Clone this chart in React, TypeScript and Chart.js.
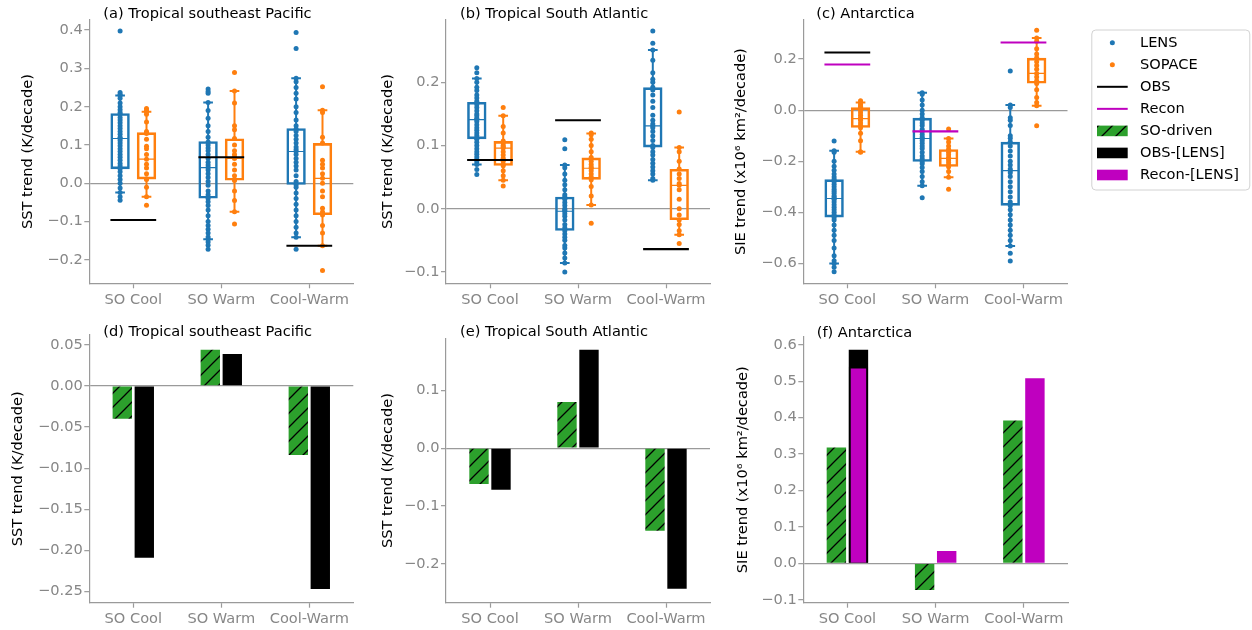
import React, { useEffect, useRef } from 'react';
import { Chart, registerables } from 'chart.js';

Chart.register(...registerables);

const FONT_FAMILY = '"DejaVu Sans", "Liberation Sans", Arial, sans-serif';
const FONT_SIZE = 14.6;
Chart.defaults.font.family = FONT_FAMILY;
Chart.defaults.font.size = FONT_SIZE;

const BLUE = '#1f77b4';
const ORANGE = '#ff7f0e';
const GREEN = '#2ca02c';
const MAGENTA = '#bf00bf';
const TEXT_GRAY = '#878787';
const LINE_GRAY = '#9a9a9a';

// ---------------- data ----------------
const categories = ['SO Cool', 'SO Warm', 'Cool-Warm'];

// (a) Tropical southeast Pacific, SST trend (K/decade)
const aLensPoints = [
  [0.398, 0.237, 0.232, 0.229, 0.222, 0.21, 0.2, 0.192, 0.185, 0.18, 0.172, 0.165, 0.158, 0.15, 0.143, 0.135, 0.128, 0.12, 0.117, 0.112, 0.105, 0.098, 0.09, 0.083, 0.075, 0.068, 0.06, 0.052, 0.045, 0.038, 0.03, 0.02, 0.01, 0.0, -0.012, -0.024, -0.035, -0.044],
  [0.246, 0.24, 0.235, 0.211, 0.19, 0.17, 0.15, 0.135, 0.12, 0.108, 0.1, 0.092, 0.085, 0.075, 0.065, 0.055, 0.048, 0.041, 0.035, 0.025, 0.015, 0.005, -0.005, -0.02, -0.03, -0.04, -0.048, -0.058, -0.07, -0.085, -0.1, -0.11, -0.12, -0.13, -0.14, -0.146, -0.153, -0.162, -0.172],
  [0.394, 0.352, 0.274, 0.265, 0.25, 0.235, 0.22, 0.2, 0.185, 0.165, 0.15, 0.142, 0.135, 0.125, 0.115, 0.105, 0.095, 0.088, 0.083, 0.075, 0.065, 0.055, 0.045, 0.035, 0.02, 0.005, -0.004, -0.01, -0.025, -0.04, -0.055, -0.07, -0.085, -0.1, -0.115, -0.13, -0.141, -0.172],
];
const aSopacePoints = [
  [0.195, 0.19, 0.187, 0.18, 0.16, 0.135, 0.13, 0.115, 0.097, 0.09, 0.075, 0.063, 0.05, 0.04, 0.025, 0.012, 0.01, -0.01, -0.035, -0.057],
  [0.289, 0.241, 0.21, 0.15, 0.14, 0.117, 0.1, 0.085, 0.075, 0.068, 0.065, 0.05, 0.035, 0.02, 0.01, 0.007, -0.02, -0.045, -0.074, -0.106],
  [0.252, 0.191, 0.185, 0.12, 0.105, 0.06, 0.05, 0.04, 0.025, 0.013, 0.0, -0.02, -0.035, -0.065, -0.075, -0.083, -0.11, -0.13, -0.163, -0.228],
];
// [lower whisker, q1, median, q3, upper whisker]
const aLensStats = [[-0.024, 0.037, 0.117, 0.183, 0.229], [-0.146, -0.04, 0.041, 0.11, 0.211], [-0.141, -0.004, 0.083, 0.144, 0.274]];
const aSopaceStats = [[-0.035, 0.01, 0.063, 0.133, 0.187], [-0.074, 0.007, 0.065, 0.117, 0.241], [-0.163, -0.083, 0.013, 0.105, 0.191]];
const aObs = [-0.096, 0.068, -0.163];
const aRecon = [null, null, null];
const aRange = [-0.2611, 0.4264];
const aTicks = [-0.2, -0.1, 0, 0.1, 0.2, 0.3, 0.4];
const aTickLabels = ['−0.2', '−0.1', '0.0', '0.1', '0.2', '0.3', '0.4'];

// (b) Tropical South Atlantic
const bLensPoints = [
  [0.223, 0.215, 0.206, 0.2, 0.192, 0.187, 0.18, 0.175, 0.17, 0.165, 0.16, 0.155, 0.15, 0.147, 0.143, 0.141, 0.138, 0.133, 0.128, 0.124, 0.12, 0.116, 0.112, 0.11, 0.105, 0.1, 0.095, 0.09, 0.086, 0.082, 0.078, 0.074, 0.07, 0.062, 0.054],
  [0.109, 0.095, 0.069, 0.065, 0.055, 0.045, 0.038, 0.03, 0.022, 0.019, 0.015, 0.01, 0.005, 0.0, -0.002, -0.004, -0.008, -0.012, -0.018, -0.025, -0.03, -0.035, -0.04, -0.045, -0.05, -0.058, -0.062, -0.07, -0.078, -0.086, -0.1],
  [0.281, 0.262, 0.251, 0.235, 0.215, 0.205, 0.2, 0.192, 0.188, 0.18, 0.17, 0.16, 0.148, 0.14, 0.134, 0.131, 0.128, 0.122, 0.115, 0.108, 0.1, 0.097, 0.09, 0.085, 0.078, 0.072, 0.066, 0.06, 0.055, 0.048, 0.045],
];
const bSopacePoints = [
  [0.16, 0.147, 0.13, 0.12, 0.107, 0.104, 0.1, 0.098, 0.096, 0.09, 0.085, 0.08, 0.075, 0.07, 0.068, 0.06, 0.052, 0.045, 0.036],
  [0.12, 0.117, 0.11, 0.1, 0.09, 0.081, 0.075, 0.07, 0.066, 0.064, 0.06, 0.055, 0.05, 0.046, 0.035, 0.02, 0.006, -0.023],
  [0.153, 0.097, 0.09, 0.075, 0.063, 0.055, 0.048, 0.04, 0.037, 0.03, 0.015, 0.0, -0.01, -0.018, -0.025, -0.035, -0.041, -0.055],
];
const bLensStats = [[0.07, 0.11, 0.141, 0.169, 0.206], [-0.086, -0.035, -0.004, 0.019, 0.069], [0.045, 0.097, 0.131, 0.192, 0.251]];
const bSopaceStats = [[0.045, 0.068, 0.096, 0.107, 0.147], [0.006, 0.046, 0.064, 0.081, 0.119], [-0.041, -0.018, 0.037, 0.063, 0.097]];
const bObs = [0.077, 0.14, -0.064];
const bRecon = [null, null, null];
const bRange = [-0.118, 0.2986];
const bTicks = [-0.1, 0, 0.1, 0.2];
const bTickLabels = ['−0.1', '0.0', '0.1', '0.2'];

// (c) Antarctica, SIE trend
const cLensPoints = [
  [-0.121, -0.159, -0.165, -0.2, -0.22, -0.235, -0.25, -0.262, -0.271, -0.28, -0.29, -0.3, -0.31, -0.318, -0.325, -0.335, -0.34, -0.346, -0.35, -0.36, -0.37, -0.38, -0.39, -0.4, -0.41, -0.42, -0.43, -0.45, -0.47, -0.49, -0.51, -0.54, -0.57, -0.59, -0.6, -0.615, -0.633],
  [0.068, 0.062, 0.04, 0.02, 0.0, -0.015, -0.03, -0.04, -0.05, -0.06, -0.075, -0.085, -0.095, -0.105, -0.111, -0.12, -0.13, -0.14, -0.15, -0.165, -0.18, -0.19, -0.202, -0.21, -0.225, -0.24, -0.26, -0.28, -0.296, -0.343],
  [0.153, 0.02, 0.01, -0.03, -0.04, -0.06, -0.1, -0.11, -0.124, -0.14, -0.16, -0.18, -0.2, -0.215, -0.23, -0.237, -0.245, -0.26, -0.28, -0.3, -0.32, -0.34, -0.36, -0.374, -0.39, -0.41, -0.43, -0.45, -0.47, -0.49, -0.51, -0.532, -0.56, -0.591],
];
const cSopacePoints = [
  [0.037, 0.03, 0.022, 0.015, 0.011, 0.0, -0.01, -0.02, -0.03, -0.033, -0.04, -0.05, -0.06, -0.069, -0.09, -0.12, -0.163, -0.165],
  [-0.074, -0.111, -0.125, -0.14, -0.153, -0.165, -0.175, -0.185, -0.189, -0.195, -0.205, -0.215, -0.222, -0.24, -0.263, -0.31],
  [0.313, 0.283, 0.27, 0.24, 0.22, 0.205, 0.19, 0.175, 0.16, 0.144, 0.13, 0.115, 0.104, 0.08, 0.05, 0.03, 0.017, -0.061],
];
const cLensStats = [[-0.6, -0.42, -0.346, -0.271, -0.159], [-0.296, -0.202, -0.111, -0.03, 0.068], [-0.532, -0.374, -0.237, -0.124, 0.02]];
const cSopaceStats = [[-0.163, -0.069, -0.033, 0.011, 0.03], [-0.263, -0.222, -0.189, -0.153, -0.111], [0.017, 0.104, 0.144, 0.205, 0.283]];
const cObs = [0.226, null, null];
const cRecon = [0.179, -0.083, 0.265];
const cRange = [-0.678, 0.353];
const cTicks = [-0.6, -0.4, -0.2, 0, 0.2];
const cTickLabels = ['−0.6', '−0.4', '−0.2', '0.0', '0.2'];

// (d) (e) (f) bar panels
const dSoDriven = [-0.04, 0.044, -0.084];
const dObsLens = [-0.209, 0.039, -0.247];
const dRange = [-0.2636, 0.062];
const dTicks = [-0.25, -0.2, -0.15, -0.1, -0.05, 0, 0.05];
const dTickLabels = ['−0.25', '−0.20', '−0.15', '−0.10', '−0.05', '0.00', '0.05'];

const eSoDriven = [-0.062, 0.08, -0.143];
const eObsLens = [-0.072, 0.17, -0.243];
const eRange = [-0.2673, 0.19];
const eTicks = [-0.2, -0.1, 0, 0.1];
const eTickLabels = ['−0.2', '−0.1', '0.0', '0.1'];

const fSoDriven = [0.318, -0.073, 0.392];
const fObsLens = [0.586, null, null];
const fReconLens = [0.54, 0.034, 0.508];
const fRange = [-0.108, 0.622];
const fTicks = [-0.1, 0, 0.1, 0.2, 0.3, 0.4, 0.5, 0.6];
const fTickLabels = ['−0.1', '0.0', '0.1', '0.2', '0.3', '0.4', '0.5', '0.6'];

const legendLabels = ['LENS', 'SOPACE', 'OBS', 'Recon', 'SO-driven', 'OBS-[LENS]', 'Recon-[LENS]'];

const SST_TITLE = 'SST trend (K/decade)';
const SIE_TITLE = 'SIE trend (x10⁶ km²/decade)';

// ---------------- layout / style ----------------
const LENS_OFF = -0.15;
const SOPACE_OFF = 0.15;
const BOX_RATIO = 0.7333; // of 0.3 spacing -> 0.22 units
const MEDIAN_HALF = 0.092;
const CAP_HALF = 0.055;
const REF_HALF = 0.26;
const BAR_OFF = 0.125;

const layoutA = { left: 0, top: 0, width: 360, height: 310, yW: 89.3, xH: 26.7, padT: 20, padR: 6.7, yTitlePad: 19.6, titleX: 103.3, titleY: 14 };
const layoutB = { left: 360, top: 0, width: 360, height: 310, yW: 86, xH: 26.7, padT: 20, padR: 10, yTitlePad: 19.6, titleX: 100, titleY: 14 };
const layoutC = { left: 720, top: 0, width: 532, height: 310, yW: 83.3, xH: 26.7, padT: 20, padR: 184.5, yTitlePad: 12.8, titleX: 96.2, titleY: 14 };
const layoutD = { left: 0, top: 310, width: 360, height: 320, yW: 89.3, xH: 27.3, padT: 25, padR: 6.7, yTitlePad: 9.6, titleX: 103.3, titleY: 22.7 };
const layoutE = { left: 360, top: 310, width: 360, height: 320, yW: 86, xH: 27.3, padT: 28.3, padR: 10, yTitlePad: 19.6, titleX: 100, titleY: 22.7 };
const layoutF = { left: 720, top: 310, width: 400, height: 320, yW: 83.3, xH: 27.3, padT: 26.7, padR: 52, yTitlePad: 14.6, titleX: 96.7, titleY: 23.3 };

let hatchCache: any = null;
function hatchPattern(): any {
  if (hatchCache) return hatchCache;
  const S = 14;
  const c = document.createElement('canvas');
  c.width = S;
  c.height = S;
  const g = c.getContext('2d') as CanvasRenderingContext2D;
  g.fillStyle = GREEN;
  g.fillRect(0, 0, S, S);
  g.strokeStyle = '#000';
  g.lineWidth = 1.3;
  g.beginPath();
  g.moveTo(0, S); g.lineTo(S, 0);
  g.moveTo(-3, 3); g.lineTo(3, -3);
  g.moveTo(S - 3, S + 3); g.lineTo(S + 3, S - 3);
  g.stroke();
  hatchCache = g.createPattern(c, 'repeat');
  return hatchCache;
}

const tickFont = { family: FONT_FAMILY, size: FONT_SIZE };

function titlePlugin(text: string, lay: any) {
  return {
    id: 'panelTitle',
    afterDraw(chart: any) {
      const ctx = chart.ctx;
      ctx.save();
      ctx.font = `${FONT_SIZE}px ${FONT_FAMILY}`;
      ctx.fillStyle = '#000';
      ctx.textAlign = 'left';
      ctx.textBaseline = 'middle';
      ctx.fillText(text, lay.titleX, lay.titleY);
      ctx.restore();
    },
  };
}

const legendPlugin = {
  id: 'figLegend',
  afterDraw(chart: any) {
    const ctx = chart.ctx as CanvasRenderingContext2D;
    const fx = 371.8, fy = 30, fw = 158, fh = 160, r = 4;
    ctx.save();
    ctx.beginPath();
    ctx.moveTo(fx + r, fy);
    ctx.arcTo(fx + fw, fy, fx + fw, fy + fh, r);
    ctx.arcTo(fx + fw, fy + fh, fx, fy + fh, r);
    ctx.arcTo(fx, fy + fh, fx, fy, r);
    ctx.arcTo(fx, fy, fx + fw, fy, r);
    ctx.closePath();
    ctx.fillStyle = 'rgba(255,255,255,0.85)';
    ctx.fill();
    ctx.strokeStyle = '#d2d2d2';
    ctx.lineWidth = 1;
    ctx.stroke();
    const hx0 = 377, hx1 = 407.7, tx = 420;
    const y0 = 42.7, dy = 22.05;
    legendLabels.forEach((label, i) => {
      const y = y0 + i * dy;
      if (i === 0 || i === 1) {
        ctx.beginPath();
        ctx.arc((hx0 + hx1) / 2, y, 2.5, 0, Math.PI * 2);
        ctx.fillStyle = i === 0 ? BLUE : ORANGE;
        ctx.fill();
      } else if (i === 2 || i === 3) {
        ctx.beginPath();
        ctx.moveTo(hx0, y);
        ctx.lineTo(hx1, y);
        ctx.strokeStyle = i === 2 ? '#000' : MAGENTA;
        ctx.lineWidth = 2;
        ctx.stroke();
      } else {
        ctx.fillStyle = i === 4 ? hatchPattern() : i === 5 ? '#000' : MAGENTA;
        ctx.fillRect(hx0, y - 5.3, hx1 - hx0, 10.6);
      }
      ctx.font = `${FONT_SIZE}px ${FONT_FAMILY}`;
      ctx.fillStyle = '#000';
      ctx.textAlign = 'left';
      ctx.textBaseline = 'middle';
      ctx.fillText(label, tx, y + 0.5);
    });
    ctx.restore();
  },
};

function yScale(lay: any, range: number[], ticks: number[], labels: string[], title: string) {
  return {
    type: 'linear',
    min: range[0],
    max: range[1],
    bounds: 'data',
    afterBuildTicks: (s: any) => { s.ticks = ticks.map((v) => ({ value: v })); },
    afterFit: (s: any) => { s.width = lay.yW; },
    ticks: { callback: (_v: any, i: number) => labels[i], color: TEXT_GRAY, font: tickFont, padding: 1.5, autoSkip: false },
    grid: {
      drawOnChartArea: true,
      drawTicks: true,
      color: (c: any) => (c.tick && c.tick.value === 0 ? LINE_GRAY : 'rgba(0,0,0,0)'),
      lineWidth: 1.3,
      tickColor: LINE_GRAY,
      tickLength: 5,
      tickWidth: 1.2,
    },
    border: { display: true, color: LINE_GRAY, width: 1.2 },
    title: { display: true, text: title, color: '#000', font: tickFont, padding: { top: lay.yTitlePad, bottom: 0 } },
  };
}

function xScale(lay: any) {
  return {
    type: 'linear',
    min: -0.5,
    max: 2.5,
    offset: false,
    bounds: 'data',
    afterBuildTicks: (s: any) => { s.ticks = categories.map((_c, i) => ({ value: i })); },
    afterFit: (s: any) => { s.height = lay.xH; },
    ticks: { callback: (_v: any, i: number) => categories[i], color: TEXT_GRAY, font: tickFont, padding: 3, autoSkip: false, maxRotation: 0, minRotation: 0 },
    grid: { drawOnChartArea: false, drawTicks: true, offset: false, tickLength: 5, tickWidth: 1.2, tickColor: LINE_GRAY, color: LINE_GRAY },
    border: { display: true, color: LINE_GRAY, width: 1.2 },
  };
}

function refSegments(values: (number | null)[]) {
  const out: any[] = [];
  values.forEach((v, i) => {
    if (v === null) return;
    out.push({ x: i - REF_HALF, y: v }, { x: i + REF_HALF, y: v }, { x: i, y: null });
  });
  return out;
}

function whiskerSegments(stats: number[][], off: number) {
  const out: any[] = [];
  stats.forEach((s, i) => {
    const c = i + off;
    out.push({ x: c, y: s[0] }, { x: c, y: s[1] }, { x: c, y: null });
    out.push({ x: c, y: s[3] }, { x: c, y: s[4] }, { x: c, y: null });
    out.push({ x: c - CAP_HALF, y: s[0] }, { x: c + CAP_HALF, y: s[0] }, { x: c, y: null });
    out.push({ x: c - CAP_HALF, y: s[4] }, { x: c + CAP_HALF, y: s[4] }, { x: c, y: null });
  });
  return out;
}

function medianSegments(stats: number[][], off: number) {
  const out: any[] = [];
  stats.forEach((s, i) => {
    const c = i + off;
    out.push({ x: c - MEDIAN_HALF, y: s[2] }, { x: c + MEDIAN_HALF, y: s[2] }, { x: c, y: null });
  });
  return out;
}

function pointsData(groups: number[][], off: number) {
  const out: any[] = [];
  groups.forEach((g, i) => g.forEach((v) => out.push({ x: i + off, y: v })));
  return out;
}

function boxData(stats: number[][], off: number) {
  return stats.map((s, i) => ({ x: i + off, y: [s[1], s[3]] }));
}

function lineDs(data: any[], color: string, width: number, order: number) {
  return { type: 'line', data, borderColor: color, borderWidth: width, pointRadius: 0, fill: false, spanGaps: false, tension: 0, order, borderCapStyle: 'butt' };
}

function boxPanel(p: any) {
  return () => {
    const datasets: any[] = [
      lineDs(refSegments(p.obs), '#000', 2.1, 0),
      lineDs(refSegments(p.recon), MAGENTA, 2.1, 1),
      { type: 'scatter', data: pointsData(p.lensPts, LENS_OFF), pointRadius: 2.5, pointBackgroundColor: BLUE, pointBorderWidth: 0, order: 2 },
      { type: 'scatter', data: pointsData(p.sopacePts, SOPACE_OFF), pointRadius: 2.5, pointBackgroundColor: ORANGE, pointBorderWidth: 0, order: 3 },
      lineDs(medianSegments(p.lensStats, LENS_OFF), BLUE, 1.2, 4),
      lineDs(medianSegments(p.sopaceStats, SOPACE_OFF), ORANGE, 1.2, 5),
      lineDs(whiskerSegments(p.lensStats, LENS_OFF), BLUE, 2, 6),
      lineDs(whiskerSegments(p.sopaceStats, SOPACE_OFF), ORANGE, 2, 7),
      { type: 'bar', data: boxData(p.lensStats, LENS_OFF), grouped: false, categoryPercentage: 1, barPercentage: BOX_RATIO, backgroundColor: 'rgba(255,255,255,0)', borderColor: BLUE, borderWidth: 2.6, borderSkipped: false, order: 8 },
      { type: 'bar', data: boxData(p.sopaceStats, SOPACE_OFF), grouped: false, categoryPercentage: 1, barPercentage: BOX_RATIO, backgroundColor: 'rgba(255,255,255,0)', borderColor: ORANGE, borderWidth: 2.6, borderSkipped: false, order: 9 },
    ];
    const plugins: any[] = [titlePlugin(p.title, p.lay)];
    if (p.legend) plugins.push(legendPlugin);
    return {
      type: 'bar',
      data: { datasets },
      options: {
        responsive: false,
        animation: false,
        events: [],
        layout: { padding: { left: 0, top: p.lay.padT, right: p.lay.padR, bottom: 0 } },
        plugins: { legend: { display: false }, tooltip: { enabled: false }, title: { display: false } },
        scales: { x: xScale(p.lay), y: yScale(p.lay, p.range, p.ticks, p.tickLabels, p.yTitle) },
      },
      plugins,
    };
  };
}

function barsAt(values: (number | null)[], off: number) {
  const out: any[] = [];
  values.forEach((v, i) => { if (v !== null) out.push({ x: i + off, y: v }); });
  return out;
}

function barPanel(p: any) {
  return () => {
    const common = { type: 'bar', grouped: false, categoryPercentage: 1, barPercentage: 0.88 };
    const datasets: any[] = [
      { ...common, data: barsAt(p.soDriven, -BAR_OFF), backgroundColor: hatchPattern(), borderWidth: 0, order: 3 },
      { ...common, data: barsAt(p.obsLens, BAR_OFF), backgroundColor: '#000', borderWidth: 0, order: 2 },
    ];
    if (p.reconLens) {
      const obs = p.obsLens;
      datasets.push({
        ...common,
        data: barsAt(p.reconLens, BAR_OFF),
        backgroundColor: MAGENTA,
        borderColor: '#000',
        borderWidth: (ctx: any) => (obs[ctx.dataIndex] !== null ? 2 : 0),
        borderSkipped: 'start',
        order: 1,
      });
    }
    return {
      type: 'bar',
      data: { datasets },
      options: {
        responsive: false,
        animation: false,
        events: [],
        layout: { padding: { left: 0, top: p.lay.padT, right: p.lay.padR, bottom: 0 } },
        plugins: { legend: { display: false }, tooltip: { enabled: false }, title: { display: false } },
        scales: { x: xScale(p.lay), y: yScale(p.lay, p.range, p.ticks, p.tickLabels, p.yTitle) },
      },
      plugins: [titlePlugin(p.title, p.lay)],
    };
  };
}

const panels = [
  { lay: layoutA, build: boxPanel({ lay: layoutA, title: '(a) Tropical southeast Pacific', yTitle: SST_TITLE, lensPts: aLensPoints, sopacePts: aSopacePoints, lensStats: aLensStats, sopaceStats: aSopaceStats, obs: aObs, recon: aRecon, range: aRange, ticks: aTicks, tickLabels: aTickLabels }) },
  { lay: layoutB, build: boxPanel({ lay: layoutB, title: '(b) Tropical South Atlantic', yTitle: SST_TITLE, lensPts: bLensPoints, sopacePts: bSopacePoints, lensStats: bLensStats, sopaceStats: bSopaceStats, obs: bObs, recon: bRecon, range: bRange, ticks: bTicks, tickLabels: bTickLabels }) },
  { lay: layoutC, build: boxPanel({ lay: layoutC, title: '(c) Antarctica', yTitle: SIE_TITLE, lensPts: cLensPoints, sopacePts: cSopacePoints, lensStats: cLensStats, sopaceStats: cSopaceStats, obs: cObs, recon: cRecon, range: cRange, ticks: cTicks, tickLabels: cTickLabels, legend: true }) },
  { lay: layoutD, build: barPanel({ lay: layoutD, title: '(d) Tropical southeast Pacific', yTitle: SST_TITLE, soDriven: dSoDriven, obsLens: dObsLens, range: dRange, ticks: dTicks, tickLabels: dTickLabels }) },
  { lay: layoutE, build: barPanel({ lay: layoutE, title: '(e) Tropical South Atlantic', yTitle: SST_TITLE, soDriven: eSoDriven, obsLens: eObsLens, range: eRange, ticks: eTicks, tickLabels: eTickLabels }) },
  { lay: layoutF, build: barPanel({ lay: layoutF, title: '(f) Antarctica', yTitle: SIE_TITLE, soDriven: fSoDriven, obsLens: fObsLens, reconLens: fReconLens, range: fRange, ticks: fTicks, tickLabels: fTickLabels }) },
];

function ChartPanel({ lay, build }: { lay: any; build: () => any }) {
  const ref = useRef<HTMLCanvasElement | null>(null);
  useEffect(() => {
    if (!ref.current) return;
    const chart = new Chart(ref.current, build());
    return () => chart.destroy();
  }, []);
  return (
    <canvas
      ref={ref}
      width={lay.width}
      height={lay.height}
      style={{ position: 'absolute', left: lay.left, top: lay.top, width: lay.width, height: lay.height }}
    />
  );
}

export default function App() {
  return (
    <div style={{ position: 'absolute', left: 0, top: 0, width: 1252, height: 630, background: '#fff', overflow: 'hidden' }}>
      {panels.map((p, i) => (
        <ChartPanel key={i} lay={p.lay} build={p.build} />
      ))}
    </div>
  );
}
